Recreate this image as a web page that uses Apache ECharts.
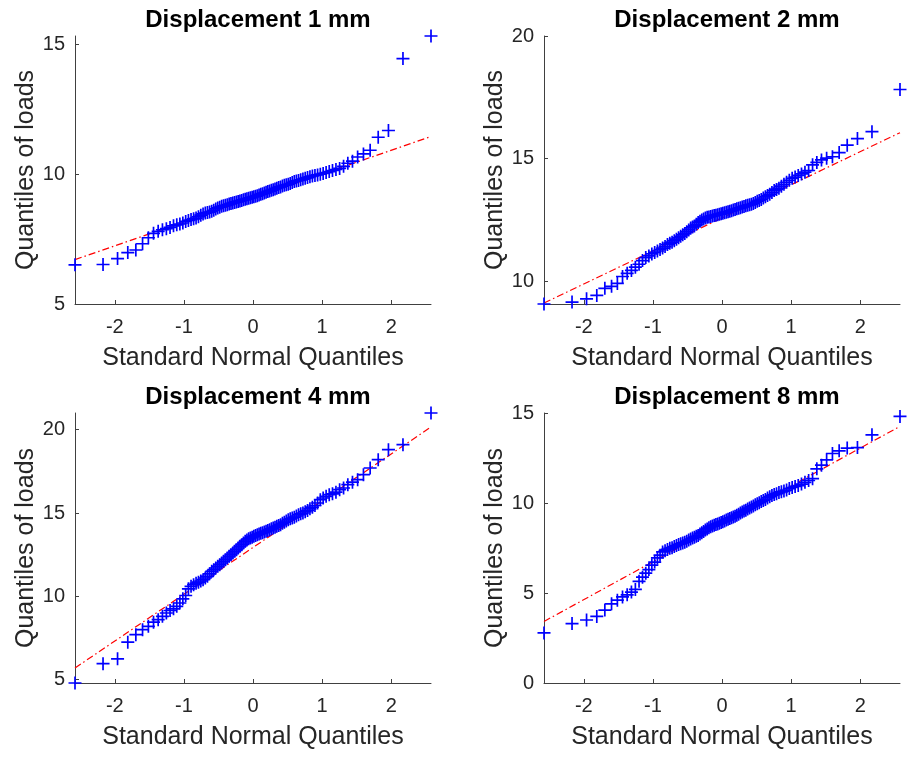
<!DOCTYPE html>
<html>
<head>
<meta charset="utf-8">
<script src="https://cdn.jsdelivr.net/npm/echarts@6/dist/echarts.min.js"></script>
<style>
html,body{margin:0;padding:0;background:#fff;}
#chart{width:910px;height:757px;}
</style>
</head>
<body>
<div id="chart"></div>
<script>
// Standard normal quantiles for plotting positions (i-0.5)/100, i = 1..100
const normalQuantiles = [
-2.5758,-2.1701,-1.9600,-1.8119,-1.6954,-1.5982,-1.5141,-1.4395,-1.3722,-1.3106,
-1.2536,-1.2004,-1.1503,-1.1031,-1.0581,-1.0152,-0.9741,-0.9346,-0.8965,-0.8596,
-0.8239,-0.7892,-0.7554,-0.7225,-0.6903,-0.6588,-0.6280,-0.5978,-0.5681,-0.5388,
-0.5101,-0.4817,-0.4538,-0.4261,-0.3989,-0.3719,-0.3451,-0.3186,-0.2924,-0.2663,
-0.2404,-0.2147,-0.1891,-0.1637,-0.1383,-0.1130,-0.0878,-0.0627,-0.0376,-0.0125,
0.0125,0.0376,0.0627,0.0878,0.1130,0.1383,0.1637,0.1891,0.2147,0.2404,
0.2663,0.2924,0.3186,0.3451,0.3719,0.3989,0.4261,0.4538,0.4817,0.5101,
0.5388,0.5681,0.5978,0.6280,0.6588,0.6903,0.7225,0.7554,0.7892,0.8239,
0.8596,0.8965,0.9346,0.9741,1.0152,1.0581,1.1031,1.1503,1.2004,1.2536,
1.3106,1.3722,1.4395,1.5141,1.5982,1.6954,1.8119,1.9600,2.1701,2.5758
];

// Sorted load quantiles
const loads1mm = [
6.51,6.52,6.75,6.98,7.08,7.32,7.55,7.72,7.80,7.86,
7.90,7.95,8.01,8.05,8.08,8.12,8.18,8.22,8.25,8.28,
8.31,8.36,8.42,8.47,8.50,8.52,8.54,8.57,8.61,8.66,
8.70,8.73,8.76,8.78,8.80,8.82,8.85,8.87,8.89,8.91,
8.93,8.95,8.97,8.99,9.01,9.03,9.05,9.07,9.09,9.11,
9.13,9.15,9.17,9.20,9.23,9.25,9.27,9.30,9.33,9.35,
9.38,9.40,9.43,9.46,9.49,9.51,9.54,9.57,9.59,9.61,
9.64,9.68,9.72,9.74,9.76,9.78,9.81,9.84,9.87,9.90,
9.93,9.95,9.97,10.00,10.03,10.06,10.10,10.14,10.18,10.22,
10.30,10.42,10.50,10.66,10.78,10.92,11.42,11.68,14.45,15.32
];
const loads2mm = [
9.08,9.16,9.29,9.43,9.72,9.80,9.92,10.20,10.33,10.45,
10.58,10.70,10.85,10.97,11.04,11.12,11.18,11.24,11.30,11.36,
11.42,11.50,11.56,11.60,11.66,11.72,11.78,11.84,11.90,11.95,
12.02,12.10,12.18,12.22,12.26,12.33,12.40,12.45,12.50,12.54,
12.58,12.61,12.63,12.65,12.67,12.69,12.70,12.72,12.74,12.76,
12.78,12.80,12.82,12.84,12.86,12.88,12.91,12.93,12.96,12.98,
13.00,13.03,13.05,13.08,13.10,13.12,13.14,13.17,13.22,13.27,
13.30,13.34,13.40,13.45,13.50,13.55,13.62,13.70,13.75,13.80,
13.88,13.96,14.04,14.12,14.20,14.25,14.32,14.38,14.45,14.52,
14.75,14.85,14.95,15.02,15.08,15.25,15.55,15.82,16.10,17.82
];
const loads4mm = [
4.80,5.96,6.25,7.25,7.70,8.00,8.20,8.45,8.60,8.80,
9.00,9.15,9.25,9.40,9.60,9.85,10.05,10.45,10.60,10.70,
10.78,10.85,10.92,11.00,11.10,11.20,11.35,11.50,11.60,11.70,
11.80,11.90,12.00,12.10,12.20,12.30,12.40,12.50,12.60,12.70,
12.80,12.90,13.00,13.10,13.20,13.30,13.38,13.45,13.50,13.55,
13.60,13.65,13.70,13.74,13.78,13.82,13.86,13.90,13.95,14.00,
14.05,14.10,14.15,14.20,14.25,14.30,14.38,14.45,14.52,14.60,
14.65,14.70,14.75,14.82,14.90,14.95,15.00,15.08,15.15,15.25,
15.35,15.45,15.60,15.80,15.90,16.00,16.10,16.15,16.25,16.40,
16.50,16.70,16.85,17.00,17.30,17.70,18.20,18.80,19.10,21.00
];
const loads8mm = [
2.78,3.30,3.50,3.70,4.05,4.40,4.60,4.78,4.90,5.05,
5.20,5.65,5.88,6.10,6.30,6.55,6.72,6.95,7.10,7.28,
7.35,7.42,7.48,7.52,7.58,7.64,7.70,7.74,7.78,7.82,
7.88,7.94,8.00,8.05,8.10,8.15,8.20,8.28,8.35,8.42,
8.50,8.56,8.62,8.68,8.72,8.76,8.80,8.84,8.88,8.92,
8.96,9.00,9.05,9.10,9.14,9.18,9.22,9.27,9.32,9.38,
9.45,9.50,9.55,9.60,9.66,9.72,9.78,9.84,9.90,9.96,
10.02,10.08,10.14,10.20,10.28,10.35,10.42,10.47,10.52,10.58,
10.62,10.66,10.72,10.80,10.86,10.92,10.97,11.05,11.15,11.25,
11.35,11.90,12.10,12.40,12.75,12.90,13.05,13.08,13.79,14.81
];

// Reference (quartile) line values at the left and right ends of the x range
const refLine1mm = [6.71, 11.45];
const refLine2mm = [9.12, 16.06];
const refLine4mm = [5.70, 20.16];
const refLine8mm = [3.42, 14.26];

const titles = ['Displacement 1 mm', 'Displacement 2 mm', 'Displacement 4 mm', 'Displacement 8 mm'];
const xTickValues = [-2, -1, 0, 1, 2];
const yTicks1mm = [5, 10, 15];
const yTicks2mm = [10, 15, 20];
const yTicks4mm = [5, 10, 15, 20];
const yTicks8mm = [0, 5, 10, 15];
const yRange1mm = [5, 15.32];
const yRange2mm = [9.08, 20];
const yRange4mm = [4.8, 21.0];
const yRange8mm = [0, 15];

const xLabel = 'Standard Normal Quantiles';
const yLabel = 'Quantiles of loads';

const FONT = "'Liberation Sans', Arial, Helvetica, sans-serif";
const AXIS_COLOR = '#404040';
const TEXT_COLOR = '#262626';

const panels = [
  {loads: loads1mm, ref: refLine1mm, ticks: yTicks1mm, range: yRange1mm},
  {loads: loads2mm, ref: refLine2mm, ticks: yTicks2mm, range: yRange2mm},
  {loads: loads4mm, ref: refLine4mm, ticks: yTicks4mm, range: yRange4mm},
  {loads: loads8mm, ref: refLine8mm, ticks: yTicks8mm, range: yRange8mm}
];

const gridBoxes = [
  {left: 75, top: 36, width: 356, height: 268},
  {left: 544, top: 36, width: 356, height: 268},
  {left: 75, top: 413, width: 356, height: 270},
  {left: 544, top: 413, width: 356, height: 270}
];

const plusPath = 'path://M4.35,0 L5.65,0 L5.65,4.35 L10,4.35 L10,5.65 L5.65,5.65 L5.65,10 L4.35,10 L4.35,5.65 L0,5.65 L0,4.35 L4.35,4.35 Z';

const xMin = normalQuantiles[0];
const xMax = normalQuantiles[normalQuantiles.length - 1];

const option = {
  animation: false,
  backgroundColor: '#ffffff',
  title: titles.map((t, i) => ({
    text: t,
    left: gridBoxes[i].left + gridBoxes[i].width / 2,
    top: gridBoxes[i].top - 33,
    textAlign: 'center',
    textStyle: {fontFamily: FONT, fontWeight: 'bold', fontSize: 24, color: '#000'}
  })),
  grid: gridBoxes.map(g => Object.assign({containLabel: false}, g)),
  xAxis: panels.map((p, i) => ({
    type: 'value',
    gridIndex: i,
    min: xMin,
    max: xMax,
    name: xLabel,
    nameLocation: 'middle',
    nameGap: 42,
    nameTextStyle: {fontFamily: FONT, fontSize: 25, color: TEXT_COLOR},
    axisLine: {show: true, onZero: false, lineStyle: {color: AXIS_COLOR, width: 1}},
    axisTick: {show: true, inside: true, length: 4, customValues: xTickValues, lineStyle: {color: AXIS_COLOR}},
    axisLabel: {customValues: xTickValues, fontFamily: FONT, fontSize: 20, color: TEXT_COLOR, margin: 13,
      formatter: v => (v < 0 ? '-' + Math.abs(v) : String(v))},
    splitLine: {show: false}
  })),
  yAxis: panels.map((p, i) => ({
    type: 'value',
    gridIndex: i,
    min: p.range[0],
    max: p.range[1],
    name: yLabel,
    nameLocation: 'middle',
    nameGap: 33,
    nameTextStyle: {fontFamily: FONT, fontSize: 25, color: TEXT_COLOR},
    axisLine: {show: true, onZero: false, lineStyle: {color: AXIS_COLOR, width: 1}},
    axisTick: {show: true, inside: true, length: 4, customValues: p.ticks, lineStyle: {color: AXIS_COLOR}},
    axisLabel: {customValues: p.ticks, fontFamily: FONT, fontSize: 20, color: TEXT_COLOR, margin: 10},
    splitLine: {show: false}
  })),
  series: panels.flatMap((p, i) => [
    {
      type: 'line',
      xAxisIndex: i,
      yAxisIndex: i,
      data: [[xMin, p.ref[0]], [xMax, p.ref[1]]],
      symbol: 'none',
      lineStyle: {color: '#ff0000', width: 1.2, type: [7, 3, 1.5, 3]},
      z: 1
    },
    {
      type: 'scatter',
      xAxisIndex: i,
      yAxisIndex: i,
      clip: false,
      symbol: plusPath,
      symbolSize: 13,
      itemStyle: {color: '#0000ff', opacity: 1},
      data: normalQuantiles.map((q, k) => [q, p.loads[k]]),
      z: 2
    }
  ])
};

const chart = echarts.init(document.getElementById('chart'), null, {renderer: 'canvas'});
chart.setOption(option);
</script>
</body>
</html>
